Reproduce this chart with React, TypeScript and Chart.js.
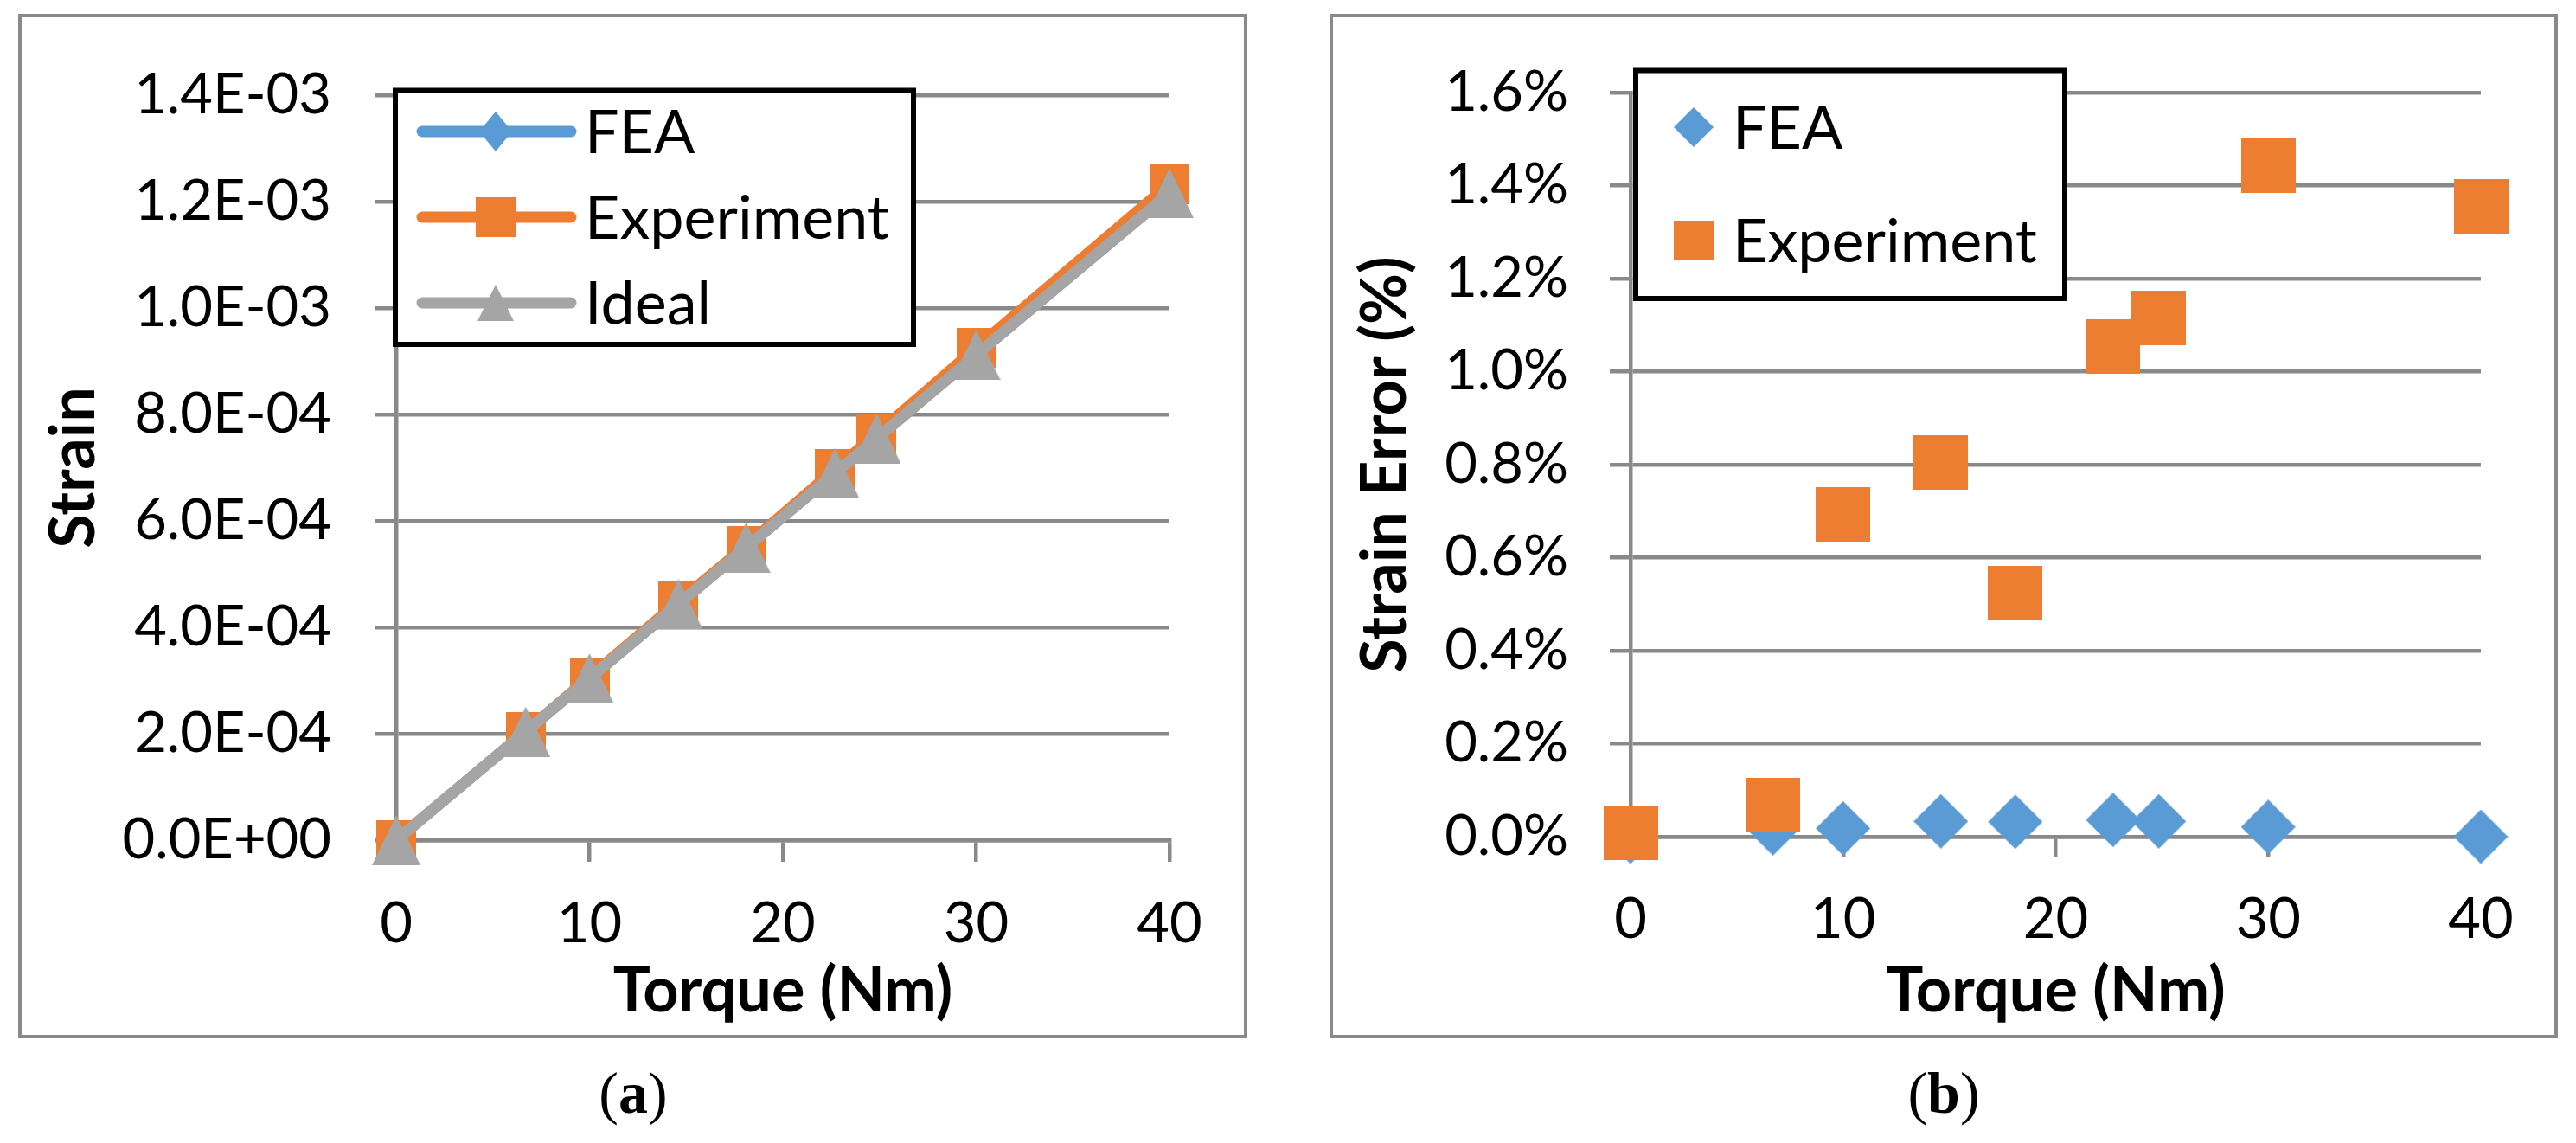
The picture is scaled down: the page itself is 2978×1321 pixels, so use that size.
import React, { useEffect, useRef } from 'react';
import { Chart, registerables } from 'chart.js';

Chart.register(...registerables);

// ---------- data ----------
const torque = [0, 6.7, 10, 14.6, 18.1, 22.7, 24.85, 30, 40];
const strainFEA = [0, 2.04e-4, 3.04e-4, 4.44e-4, 5.5e-4, 6.9e-4, 7.55e-4, 9.12e-4, 1.216e-3];
const strainExperiment = [0, 2.04e-4, 3.06e-4, 4.48e-4, 5.53e-4, 6.97e-4, 7.63e-4, 9.25e-4, 1.233e-3];
const strainIdeal = [0, 2.04e-4, 3.04e-4, 4.44e-4, 5.5e-4, 6.9e-4, 7.55e-4, 9.12e-4, 1.216e-3];
const errorFEA = [0, 0.018, 0.018, 0.033, 0.032, 0.036, 0.033, 0.021, 0.0];
const errorExperiment = [0.008, 0.067, 0.693, 0.804, 0.523, 1.054, 1.115, 1.443, 1.355];
const xTickLabels = ['0', '10', '20', '30', '40'];
const strainTickLabels = ['0.0E+00', '2.0E-04', '4.0E-04', '6.0E-04', '8.0E-04', '1.0E-03', '1.2E-03', '1.4E-03'];
const errorTickLabels = ['0.0%', '0.2%', '0.4%', '0.6%', '0.8%', '1.0%', '1.2%', '1.4%', '1.6%'];
const seriesNames = ['FEA', 'Experiment', 'Ideal'];
const xTitle = 'Torque (Nm)';
const strainTitle = 'Strain';
const errorTitle = 'Strain Error (%)';

// ---------- styles ----------
const BLUE = '#5B9BD5';
const ORANGE = '#ED7D31';
const GRAY = '#A5A5A5';
const AXIS = '#898989';
const FONT = 'Lato';
const TICK_FS = 65;
const TITLE_FS = 72;
const LEGEND_FS = 70;

type Shape = 'diamond' | 'square' | 'triangle';

function drawShape(ctx: CanvasRenderingContext2D, shape: Shape, cx: number, cy: number, w: number, h: number) {
  ctx.beginPath();
  if (shape === 'square') {
    ctx.rect(cx - w / 2, cy - h / 2, w, h);
  } else if (shape === 'diamond') {
    ctx.moveTo(cx, cy - h / 2);
    ctx.lineTo(cx + w / 2, cy);
    ctx.lineTo(cx, cy + h / 2);
    ctx.lineTo(cx - w / 2, cy);
    ctx.closePath();
  } else {
    ctx.moveTo(cx, cy - h / 2);
    ctx.lineTo(cx + w / 2, cy + h / 2);
    ctx.lineTo(cx - w / 2, cy + h / 2);
    ctx.closePath();
  }
  ctx.fill();
}

function makeMarker(shape: Shape, color: string, w: number, h: number): HTMLCanvasElement {
  const c = document.createElement('canvas');
  c.width = Math.round(w);
  c.height = Math.round(h);
  const ctx = c.getContext('2d')!;
  ctx.fillStyle = color;
  drawShape(ctx, shape, c.width / 2, c.height / 2, w, h);
  return c;
}

const boxLegend = {
  id: 'boxLegend',
  afterDraw(chart: any, _args: any, opts: any) {
    if (!opts || !opts.items) return;
    const ctx: CanvasRenderingContext2D = chart.ctx;
    ctx.save();
    ctx.fillStyle = '#ffffff';
    ctx.fillRect(opts.x, opts.y, opts.w, opts.h);
    ctx.lineWidth = 6;
    ctx.strokeStyle = '#000000';
    ctx.strokeRect(opts.x, opts.y, opts.w, opts.h);
    for (const it of opts.items) {
      const ds = chart.data.datasets[it.dataset];
      if (opts.showLine) {
        ctx.beginPath();
        ctx.moveTo(opts.lineX1, it.y);
        ctx.lineTo(opts.lineX2, it.y);
        ctx.lineWidth = 13;
        ctx.lineCap = 'round';
        ctx.strokeStyle = ds.borderColor;
        ctx.stroke();
      }
      ctx.fillStyle = ds.backgroundColor;
      drawShape(ctx, it.shape, opts.markerX, it.y, it.mw, it.mh);
      ctx.fillStyle = '#000000';
      ctx.font = `${LEGEND_FS}px ${FONT}`;
      ctx.textAlign = 'left';
      ctx.textBaseline = 'alphabetic';
      ctx.fillText(ds.label, opts.textX, it.y + LEGEND_FS * 0.717 / 2);
    }
    ctx.restore();
  },
};

const tickFont = { family: FONT, size: TICK_FS, lineHeight: 1.2 };
const titleFont = { family: FONT, size: TITLE_FS, weight: 'bold' as const, lineHeight: 1.2 };

function buildStrainChart(canvas: HTMLCanvasElement) {
  const pts = (ys: number[]) => torque.map((x, i) => ({ x, y: ys[i] }));
  return new Chart(canvas, {
    type: 'scatter',
    data: {
      datasets: [
        {
          label: seriesNames[0],
          data: pts(strainFEA),
          showLine: true,
          borderColor: BLUE,
          backgroundColor: BLUE,
          borderWidth: 13,
          borderCapStyle: 'round',
          borderJoinStyle: 'round',
          pointStyle: makeMarker('diamond', BLUE, 46, 46) as any,
          pointRadius: 23,
          clip: false as any,
          order: 2,
        },
        {
          label: seriesNames[1],
          data: pts(strainExperiment),
          showLine: true,
          borderColor: ORANGE,
          backgroundColor: ORANGE,
          borderWidth: 13,
          borderCapStyle: 'round',
          borderJoinStyle: 'round',
          pointStyle: makeMarker('square', ORANGE, 46, 46) as any,
          pointRadius: 23,
          clip: false as any,
          order: 1,
        },
        {
          label: seriesNames[2],
          data: pts(strainIdeal),
          showLine: true,
          borderColor: GRAY,
          backgroundColor: GRAY,
          borderWidth: 13,
          borderCapStyle: 'round',
          borderJoinStyle: 'round',
          pointStyle: makeMarker('triangle', GRAY, 56, 58) as any,
          pointRadius: 28,
          clip: false as any,
          order: 0,
        },
      ],
    },
    options: {
      animation: false,
      responsive: false,
      events: [],
      layout: { padding: { top: 85, right: 86, left: 0, bottom: 0 } },
      plugins: {
        legend: { display: false },
        tooltip: { enabled: false },
        boxLegend: {
          x: 432, y: 84.5, w: 599, h: 293.5,
          showLine: true, lineX1: 463, lineX2: 635, markerX: 548, textX: 651,
          items: [
            { dataset: 0, y: 132, shape: 'diamond', mw: 38, mh: 46 },
            { dataset: 1, y: 231, shape: 'square', mw: 46, mh: 46 },
            { dataset: 2, y: 330, shape: 'triangle', mw: 42, mh: 42 },
          ],
        },
      } as any,
      scales: {
        x: {
          type: 'linear',
          min: 0,
          max: 40,
          ticks: {
            stepSize: 10,
            autoSkip: false,
            maxRotation: 0,
            color: '#000',
            font: tickFont,
            padding: 33,
            callback: (v: any) => xTickLabels[Math.round(Number(v) / 10)],
          },
          grid: { drawOnChartArea: false, drawTicks: true, tickLength: 25, color: AXIS, lineWidth: 4.5 },
          border: { display: true, color: AXIS, width: 4.5 },
          title: { display: true, text: xTitle, color: '#000', font: titleFont, padding: { top: 0, bottom: 7 } },
          afterFit: (s: any) => { s.height = 225; },
        },
        y: {
          type: 'linear',
          min: 0,
          max: 0.0014,
          ticks: {
            stepSize: 0.0002,
            autoSkip: false,
            color: '#000',
            font: tickFont,
            padding: 51,
            callback: (v: any) => strainTickLabels[Math.round(Number(v) / 0.0002)],
          },
          grid: { drawTicks: true, tickLength: 24, color: AXIS, lineWidth: 4.5 },
          border: { display: true, color: AXIS, width: 4.5 },
          title: { display: true, text: strainTitle, color: '#000', font: titleFont, padding: { top: 18, bottom: 0 } },
          afterFit: (s: any) => { s.width = 433; },
        },
      },
    } as any,
    plugins: [boxLegend as any],
  });
}

function buildErrorChart(canvas: HTMLCanvasElement) {
  const pts = (ys: number[]) => torque.map((x, i) => ({ x, y: ys[i] }));
  return new Chart(canvas, {
    type: 'scatter',
    data: {
      datasets: [
        {
          label: seriesNames[0],
          data: pts(errorFEA),
          borderColor: BLUE,
          backgroundColor: BLUE,
          pointStyle: makeMarker('diamond', BLUE, 63, 63) as any,
          pointRadius: 31,
          clip: false as any,
          order: 1,
        },
        {
          label: seriesNames[1],
          data: pts(errorExperiment),
          borderColor: ORANGE,
          backgroundColor: ORANGE,
          pointStyle: makeMarker('square', ORANGE, 63, 63) as any,
          pointRadius: 31,
          clip: false as any,
          order: 0,
        },
      ],
    },
    options: {
      animation: false,
      responsive: false,
      events: [],
      layout: { padding: { top: 58, right: 85, left: 0, bottom: 0 } },
      plugins: {
        legend: { display: false },
        tooltip: { enabled: false },
        boxLegend: {
          x: 350, y: 61.5, w: 496, h: 263.5,
          showLine: false, markerX: 417, textX: 462,
          items: [
            { dataset: 0, y: 127, shape: 'diamond', mw: 46, mh: 46 },
            { dataset: 1, y: 258, shape: 'square', mw: 46, mh: 46 },
          ],
        },
      } as any,
      scales: {
        x: {
          type: 'linear',
          min: 0,
          max: 40,
          ticks: {
            stepSize: 10,
            autoSkip: false,
            maxRotation: 0,
            color: '#000',
            font: tickFont,
            padding: 33,
            callback: (v: any) => xTickLabels[Math.round(Number(v) / 10)],
          },
          grid: { drawOnChartArea: false, drawTicks: true, tickLength: 24, color: AXIS, lineWidth: 4.5 },
          border: { display: true, color: AXIS, width: 4.5 },
          title: { display: true, text: xTitle, color: '#000', font: titleFont, padding: { top: 0, bottom: 7 } },
          afterFit: (s: any) => { s.height = 229; },
        },
        y: {
          type: 'linear',
          min: 0,
          max: 1.6,
          ticks: {
            stepSize: 0.2,
            autoSkip: false,
            color: '#000',
            font: tickFont,
            padding: 48,
            callback: (v: any) => errorTickLabels[Math.round(Number(v) / 0.2)],
          },
          grid: { drawTicks: true, tickLength: 24, color: AXIS, lineWidth: 4.5 },
          border: { display: true, color: AXIS, width: 4.5 },
          title: { display: true, text: errorTitle, color: '#000', font: titleFont, padding: { top: 18, bottom: 0 } },
          afterFit: (s: any) => { s.width = 344; },
        },
      },
    } as any,
    plugins: [boxLegend as any],
  });
}

const panelBorder: React.CSSProperties = {
  position: 'absolute',
  boxSizing: 'border-box',
  border: `4px solid ${AXIS}`,
  background: '#fff',
};

const captionStyle: React.CSSProperties = {
  position: 'absolute',
  width: 300,
  textAlign: 'center',
  fontFamily: '"Liberation Serif", "DejaVu Serif", serif',
  fontSize: 68,
  lineHeight: '68px',
  color: '#000',
};

export default function App() {
  const leftRef = useRef<HTMLCanvasElement>(null);
  const rightRef = useRef<HTMLCanvasElement>(null);

  useEffect(() => {
    const a = buildStrainChart(leftRef.current!);
    const b = buildErrorChart(rightRef.current!);
    let alive = true;
    if ((document as any).fonts && (document as any).fonts.ready) {
      (document as any).fonts.ready.then(() => {
        if (alive) { a.update(); b.update(); }
      });
    }
    return () => {
      alive = false;
      a.destroy();
      b.destroy();
    };
  }, []);

  return (
    <div style={{ position: 'fixed', left: 0, top: 0, width: 2978, height: 1321, background: '#fff', overflow: 'hidden' }}>
      <div style={{ ...panelBorder, left: 21, top: 16, width: 1421, height: 1184 }} />
      <canvas ref={leftRef} width={1413} height={1176} style={{ position: 'absolute', left: 25, top: 20 }} />
      <div style={{ ...panelBorder, left: 1537, top: 16, width: 1420, height: 1184 }} />
      <canvas ref={rightRef} width={1412} height={1176} style={{ position: 'absolute', left: 1541, top: 20 }} />
      <div style={{ ...captionStyle, left: 732 - 150, top: 1229 }}>(<b>a</b>)</div>
      <div style={{ ...captionStyle, left: 2247 - 150, top: 1229 }}>(<b>b</b>)</div>
    </div>
  );
}
